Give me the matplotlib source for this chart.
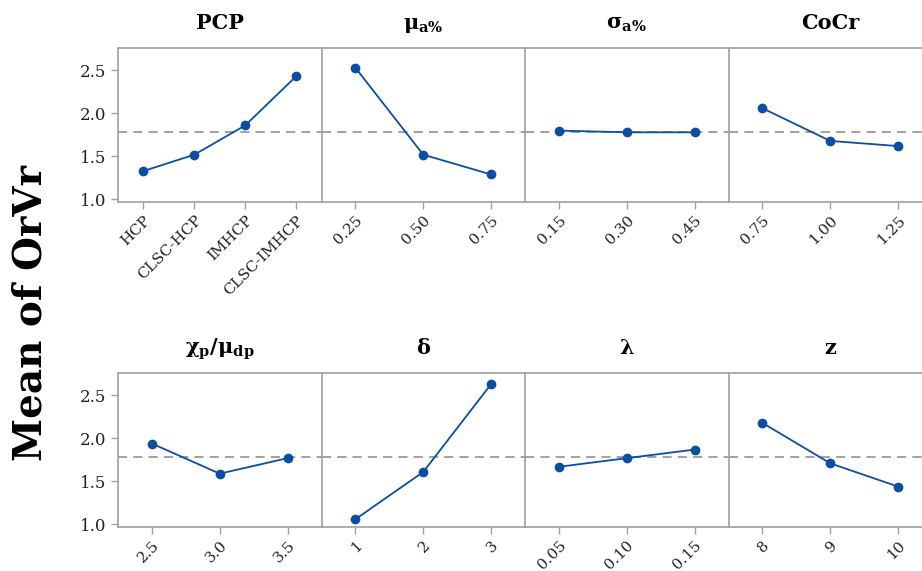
import numpy as np
import matplotlib.pyplot as plt

# factor levels and mean OrVr values
pcp_levels = ['HCP', 'CLSC-HCP', 'IMHCP', 'CLSC-IMHCP']
pcp_means = [1.33, 1.52, 1.86, 2.43]
mu_levels = ['0.25', '0.50', '0.75']
mu_means = [2.53, 1.52, 1.29]
sigma_levels = ['0.15', '0.30', '0.45']
sigma_means = [1.80, 1.78, 1.78]
cocr_levels = ['0.75', '1.00', '1.25']
cocr_means = [2.06, 1.68, 1.62]
chi_levels = ['2.5', '3.0', '3.5']
chi_means = [1.94, 1.59, 1.77]
delta_levels = ['1', '2', '3']
delta_means = [1.06, 1.61, 2.63]
lam_levels = ['0.05', '0.10', '0.15']
lam_means = [1.67, 1.77, 1.87]
z_levels = ['8', '9', '10']
z_means = [2.18, 1.71, 1.44]
grand_mean = 1.785

titles = ['PCP', r'μ$_{\mathbf{a\%}}$', r'σ$_{\mathbf{a\%}}$', 'CoCr',
          r'χ$_{\mathbf{p}}$/μ$_{\mathbf{dp}}$', 'δ', 'λ', 'z']
levels = [pcp_levels, mu_levels, sigma_levels, cocr_levels,
          chi_levels, delta_levels, lam_levels, z_levels]
means = [pcp_means, mu_means, sigma_means, cocr_means,
         chi_means, delta_means, lam_means, z_means]

plt.rcParams['font.family'] = ['DejaVu Serif']
plt.rcParams['mathtext.fontset'] = 'dejavuserif'

fig = plt.figure(figsize=(9.22, 5.71), dpi=100)
W, H = 922, 571
pw, ph = 203.5, 154
rows_top = [48, 373]
gray = '#a0a0a0'

for i in range(8):
    r, c = divmod(i, 4)
    x0 = 118 + c * pw
    y0 = rows_top[r]
    ax = fig.add_axes([x0 / W, 1 - (y0 + ph) / H, pw / W, ph / H])
    n = len(levels[i])
    xs = np.arange(n)
    ax.axhline(grand_mean, color='#888888', ls=(0, (6, 4)), lw=1.1, zorder=1)
    ax.plot(xs, means[i], color='#0b4ea2', lw=1.3, marker='o', ms=6, zorder=3)
    ax.set_xlim(-0.5, n - 0.5)
    ax.set_ylim(0.97, 2.76)
    ax.set_xticks(xs)
    ax.set_xticklabels(levels[i], rotation=45, ha='right', rotation_mode='anchor', fontsize=11)
    ax.set_yticks([1.0, 1.5, 2.0, 2.5])
    ax.set_title(titles[i], fontsize=15, fontweight='bold', pad=14)
    for s in ['left', 'top', 'bottom']:
        ax.spines[s].set_color(gray)
        ax.spines[s].set_linewidth(1.2)
    ax.spines['right'].set_visible(False)
    ax.tick_params(colors=gray, labelcolor='#222222', length=5, width=1)
    ax.tick_params(axis='x', pad=3)
    if c == 0:
        ax.set_yticklabels(['1.0', '1.5', '2.0', '2.5'], fontsize=12)
    else:
        ax.tick_params(axis='y', left=False, labelleft=False)

fig.text(0.033, 0.452, 'Mean of OrVr', rotation=90, fontsize=28, fontweight='bold',
         ha='center', va='center')

fig.savefig('out.png', dpi=100)
